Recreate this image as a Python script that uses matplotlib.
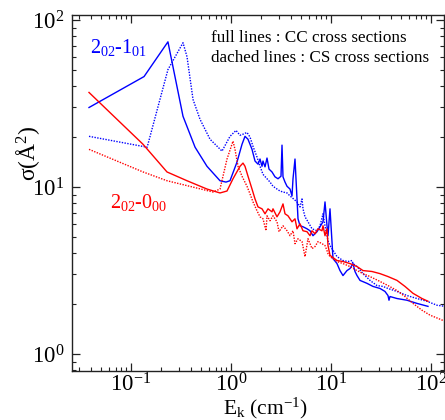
import matplotlib
matplotlib.use("Agg")
import matplotlib.pyplot as plt
from matplotlib.ticker import LogLocator, NullFormatter

plt.rcParams['font.family'] = ['Liberation Serif', 'DejaVu Serif']
plt.rcParams['mathtext.fontset'] = 'custom'
plt.rcParams['mathtext.rm'] = 'Liberation Serif'
plt.rcParams['mathtext.it'] = 'Liberation Serif:italic'
plt.rcParams['mathtext.bf'] = 'Liberation Serif:bold'

# -----------------------------
# Data
# -----------------------------
# 2_02 - 1_01, CC (full line)
e_cc_1 = [0.038, 0.135, 0.234, 0.331, 0.437, 0.575, 0.776, 0.891, 0.977, 1.148,
          1.288, 1.380, 1.479, 1.622, 1.738, 1.862, 1.950, 2.042, 2.089, 2.188,
          2.291, 2.399, 2.570, 2.754, 2.951, 3.162, 3.236, 3.311, 3.467, 3.631,
          3.890, 4.074, 4.169, 4.365, 4.571, 4.677, 4.898, 5.248, 5.754, 6.166,
          6.607, 7.244, 7.762, 8.318, 8.710, 9.120, 9.333, 9.772, 10.23, 10.47,
          11.48, 12.30, 13.18, 14.45, 15.49, 16.60, 17.38, 18.20, 19.50, 22.91,
          26.30, 30.90, 34.67, 37.15, 38.02, 38.90, 45.71, 57.54, 72.44, 93.33]
s_cc_1 = [29.9, 45.8, 73.9, 26.5, 17.3, 13.3, 10.9, 10.7, 10.9, 14.1,
          18.0, 20.1, 19.3, 16.8, 14.3, 13.7, 14.7, 13.3, 14.3, 13.2,
          14.9, 12.8, 12.3, 11.5, 11.2, 11.6, 17.8, 11.5, 10.7, 10.1,
          9.72, 8.84, 11.2, 14.7, 8.48, 6.45, 5.86, 5.78, 5.62, 5.47,
          5.11, 5.40, 5.78, 6.19, 8.14, 5.86, 5.11, 7.40, 4.71, 3.73,
          3.48, 3.16, 2.95, 3.16, 3.25, 3.48, 3.12, 2.95, 2.76, 2.65,
          2.54, 2.47, 2.37, 2.24, 2.10, 2.21, 2.15, 2.10, 2.01, 1.93]

# 2_02 - 1_01, CS (dotted line)
e_cs_1 = [0.038, 0.145, 0.234, 0.331, 0.363, 0.417, 0.490, 0.617, 0.813, 0.977,
          1.122, 1.230, 1.318, 1.445, 1.549, 1.660, 1.820, 1.950, 2.089, 2.291,
          2.455, 2.630, 2.884, 3.090, 3.311, 3.631, 3.890, 4.571, 4.898, 5.129,
          5.248, 5.495, 5.888, 6.457, 7.244, 7.762, 8.318, 8.710, 9.120, 9.333,
          9.772, 11.48, 13.18, 14.79, 16.22, 16.60, 18.20, 20.89, 24.55, 28.84,
          33.11, 37.15, 45.71, 57.54, 72.44, 91.20, 114.8, 138.0]
s_cs_1 = [20.1, 17.3, 50.4, 73.0, 60.2, 33.4, 25.4, 19.3, 16.4, 20.1,
          21.8, 20.4, 20.7, 21.2, 19.9, 17.5, 15.1, 13.3, 11.9, 11.2,
          10.7, 10.1, 9.72, 9.46, 9.33, 9.21, 8.84, 8.14, 7.60, 8.48,
          7.40, 6.63, 6.19, 5.62, 5.47, 5.86, 6.91, 5.86, 5.11, 4.77,
          4.46, 3.83, 3.63, 3.58, 3.63, 3.48, 3.34, 3.03, 2.76, 2.57,
          2.54, 2.47, 2.37, 2.24, 2.15, 2.07, 1.96, 1.93]

# 2_02 - 0_00, CC (full line)
e_cc_0 = [0.038, 0.132, 0.229, 0.363, 0.575, 0.776, 0.912, 1.047, 1.230, 1.318,
          1.380, 1.479, 1.622, 1.738, 1.862, 2.042, 2.188, 2.344, 2.570, 2.630,
          2.884, 3.090, 3.311, 3.467, 3.715, 4.074, 4.365, 4.571, 4.898, 5.248,
          5.754, 6.166, 6.457, 6.918, 7.413, 8.128, 8.318, 8.710, 9.120, 9.333,
          9.772, 11.48, 13.18, 15.49, 18.20, 20.89, 25.70, 30.90, 37.15, 45.71,
          54.95, 66.07, 81.28, 93.33]
s_cc_0 = [36.8, 18.0, 12.3, 10.9, 9.72, 9.21, 9.46, 11.2, 13.3, 13.9,
          13.3, 11.6, 9.72, 8.48, 7.60, 7.40, 6.91, 7.40, 7.10, 7.40,
          6.63, 7.10, 7.92, 6.91, 6.72, 6.19, 6.45, 5.62, 6.02, 5.47,
          5.40, 5.11, 5.47, 5.25, 5.62, 5.47, 5.86, 5.11, 5.62, 4.46,
          3.90, 3.63, 3.58, 3.48, 3.34, 3.16, 3.12, 3.03, 2.91, 2.76,
          2.54, 2.31, 2.15, 2.07]

# 2_02 - 0_00, CS (dotted line)
e_cs_0 = [0.038, 0.132, 0.229, 0.661, 0.776, 0.912, 1.047, 1.096, 1.175, 1.288,
          1.445, 1.549, 1.660, 1.820, 1.950, 2.089, 2.239, 2.291, 2.455, 2.630,
          2.884, 3.020, 3.311, 3.631, 3.890, 4.169, 4.365, 4.677, 5.129, 5.495,
          5.888, 6.457, 6.918, 7.413, 8.128, 8.710, 9.120, 9.333, 9.772, 11.48,
          13.18, 15.49, 18.20, 20.89, 24.55, 30.90, 37.15, 45.71, 54.95, 66.07,
          81.28, 97.72, 131.8]
s_cs_0 = [16.8, 12.3, 10.9, 9.33, 9.72, 14.7, 18.8, 16.8, 13.3, 11.6,
          10.1, 9.09, 8.14, 7.20, 6.63, 6.45, 5.47, 6.72, 6.28, 6.72,
          6.19, 5.40, 5.86, 5.47, 5.11, 5.47, 4.58, 4.90, 4.71, 3.83,
          4.90, 4.28, 4.40, 4.71, 4.58, 4.46, 4.16, 3.99, 3.83, 3.58,
          3.48, 3.34, 3.16, 3.03, 2.91, 2.72, 2.57, 2.40, 2.21, 2.01,
          1.83, 1.71, 1.59]

# -----------------------------
# Plot
# -----------------------------
fig = plt.figure(figsize=(4.45, 4.2), dpi=100)
ax = fig.add_axes([0.1607, 0.1167, 0.8371, 0.8476])

ax.plot(e_cc_1, s_cc_1, color='#0000ff', lw=1.0)
ax.plot(e_cs_1, s_cs_1, color='#0000ff', lw=1.0, ls=(0, (1, 1)))
ax.plot(e_cc_0, s_cc_0, color='#ff0000', lw=1.0)
ax.plot(e_cs_0, s_cs_0, color='#ff0000', lw=1.0, ls=(0, (1, 1)))

ax.set_xscale('log')
ax.set_yscale('log')
ax.set_xlim(0.0254, 135)
ax.set_ylim(0.792, 107)

ax.xaxis.set_minor_locator(LogLocator(base=10, subs=range(2, 10), numticks=20))
ax.yaxis.set_minor_locator(LogLocator(base=10, subs=range(2, 10), numticks=20))
ax.xaxis.set_minor_formatter(NullFormatter())
ax.yaxis.set_minor_formatter(NullFormatter())

ax.tick_params(which='both', direction='in', top=True, right=True,
               labelsize=16.5, color='#222222')
ax.tick_params(which='major', length=6, width=0.9, pad=5)
ax.tick_params(axis='x', which='major', pad=2)
ax.tick_params(which='minor', length=3, width=0.8)
for sp in ax.spines.values():
    sp.set_linewidth(1.0)
    sp.set_color('#222222')

# axis titles
fig.text(0.596, 0.027, 'E$_\\mathrm{k}$ (cm$^{-1}$)', fontsize=15.5,
         ha='center', va='center')
fig.text(0.063, 0.634, 'σ(Å$^2$)', rotation=90, fontsize=17,
         ha='center', va='center')

# labels inside
ax.text(0.0385, 68, '2$_{02}$-1$_{01}$', color='#0000ff', fontsize=14.5,
        va='center', ha='left')
ax.text(0.0617, 8.1, '2$_{02}$-0$_{00}$', color='#ff0000', fontsize=14.5,
        va='center', ha='left')
ax.text(0.63, 78, 'full lines : CC cross sections', fontsize=12.3,
        va='center', ha='left')
ax.text(0.63, 59.4, 'dached lines : CS cross sections', fontsize=12.3,
        va='center', ha='left')

plt.savefig("out.png", dpi=100)
